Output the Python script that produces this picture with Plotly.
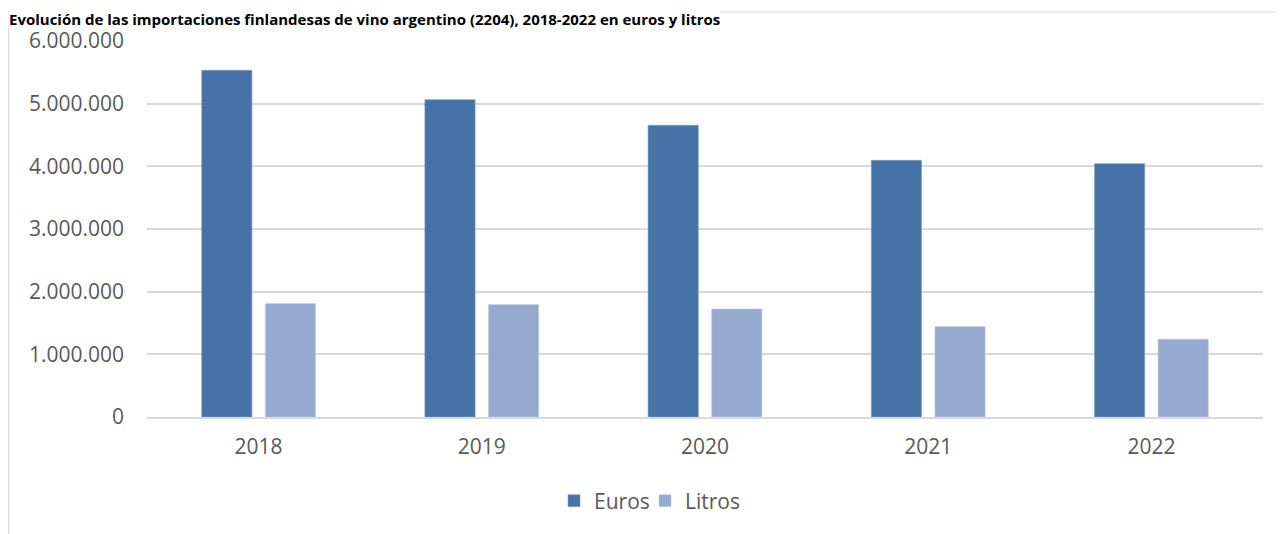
import plotly.graph_objects as go

years = ["2018", "2019", "2020", "2021", "2022"]
euros = [5533000, 5064000, 4655000, 4096000, 4042000]
litros = [1811000, 1795000, 1725000, 1444000, 1241000]
tick_vals = [0, 1000000, 2000000, 3000000, 4000000, 5000000, 6000000]
tick_text = ["0", "1.000.000", "2.000.000", "3.000.000", "4.000.000", "5.000.000", "6.000.000"]

# page body has an 8px margin: figure origin sits at window (8, 8)
OFF = 8
W, H = 1284 - OFF, 534 - OFF
L, R, T, B = 139, 21, 33, 117
plot_h = H - T - B
plot_w = W - L - R

def py(win_px):
    return (H - B - (win_px - OFF)) / plot_h

def pxx(win_px):
    return ((win_px - OFF) - L) / plot_w

FONT = "Open Sans"
GRAY = "#595959"
leg_font = dict(family=FONT, size=21, color=GRAY)
CLEAR = "rgba(0,0,0,0)"

fig = go.Figure()
fig.add_trace(go.Bar(name="Euros", x=years, y=euros, legend="legend",
                     marker=dict(color="#4673A7", line=dict(color="#7f9fc8", width=0.6))))
fig.add_trace(go.Bar(name="Litros", x=years, y=litros, legend="legend2",
                     marker=dict(color="#96AAD0", line=dict(color="#c0cde6", width=0.6))))

fig.update_layout(
    width=W, height=H,
    margin=dict(l=L, r=R, t=T, b=B, pad=0),
    paper_bgcolor="white", plot_bgcolor="white",
    barmode="group", bargap=0.43, bargroupgap=0.21,
    font=dict(family=FONT, size=21, color=GRAY),
    showlegend=True,
    legend=dict(orientation="h", x=pxx(554), xanchor="left", y=py(501), yanchor="middle",
                font=leg_font, itemwidth=30, bgcolor=CLEAR),
    legend2=dict(orientation="h", x=pxx(645), xanchor="left", y=py(501), yanchor="middle",
                 font=leg_font, itemwidth=30, bgcolor=CLEAR),
    xaxis=dict(showgrid=False, showline=True, linecolor="#D9D9D9", linewidth=1.5, ticks="",
               tickfont=dict(family=FONT, size=21, color=GRAY), ticklabelstandoff=10),
    yaxis=dict(range=[0, 6000000], tickvals=tick_vals, ticktext=tick_text, showgrid=True,
               gridcolor="#D9D9D9", gridwidth=1.5, zeroline=False, showline=False, ticks="",
               tickfont=dict(family=FONT, size=21, color=GRAY), ticklabelstandoff=22),
    annotations=[dict(text="<b>Evolución de las importaciones finlandesas de vino argentino (2204), 2018-2022 en euros y litros</b>",
                      xref="paper", yref="paper", x=pxx(OFF), xanchor="left", y=py(OFF), yanchor="top",
                      showarrow=False, bgcolor="white", borderpad=0,
                      font=dict(family=FONT, size=15, color="black"))],
    shapes=[
        dict(type="line", xref="paper", yref="paper", x0=pxx(OFF), x1=pxx(1290), y0=py(12), y1=py(12),
             line=dict(color="#D9D9D9", width=1.2), layer="below"),
        dict(type="line", xref="paper", yref="paper", x0=pxx(OFF + 0.6), x1=pxx(OFF + 0.6), y0=py(12), y1=py(540),
             line=dict(color="#D9D9D9", width=1.2), layer="below"),
    ],
)

fig.write_html("out.html")
